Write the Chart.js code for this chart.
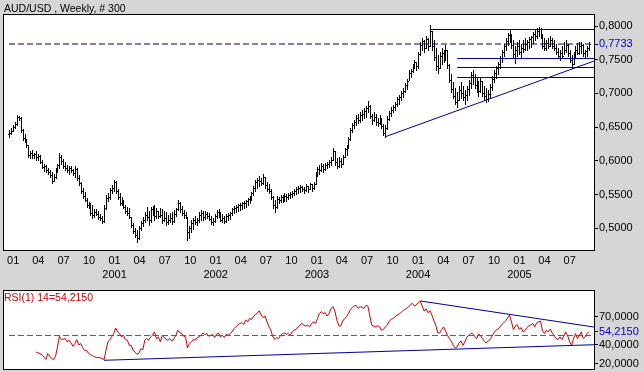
<!DOCTYPE html>
<html>
<head>
<meta charset="utf-8">
<script src="https://cdn.jsdelivr.net/npm/chart.js@4.4.0/dist/chart.umd.min.js"></script>
<style>
  html, body { margin: 0; padding: 0; background: #d6d6d6; }
  #wrap { position: relative; width: 644px; height: 372px; overflow: hidden; }
  canvas { position: absolute; left: 0; }
  #priceChart { top: 0; }
  #rsiChart { top: 284px; }
</style>
</head>
<body>
<div id="wrap">
  <canvas id="priceChart" width="644" height="284"></canvas>
  <canvas id="rsiChart" width="644" height="88"></canvas>
</div>
<script>
// AUD/USD weekly, 300 bars, first bar week of 17 Dec 1999
const title = 'AUD/USD , Weekly, # 300';
const firstWeek = '1999-12-17';
const quarters = ['2000-01', '2000-04', '2000-07', '2000-10', '2001-01', '2001-04', '2001-07', '2001-10',
    '2002-01', '2002-04', '2002-07', '2002-10', '2003-01', '2003-04', '2003-07', '2003-10',
    '2004-01', '2004-04', '2004-07', '2004-10', '2005-01', '2005-04', '2005-07'];

const firstOpen = 0.6400;
const highs = [
    .6460, .6480, .6530, .6570, .6680, .6670, .6650, .6470, .6400, .6320,
    .6240, .6150, .6160, .6120, .6140, .6100, .6080, .6010, .5960, .5940,
    .5890, .5860, .5830, .5800, .5890, .5960, .6120, .6090, .6030, .5980,
    .5940, .5930, .5920, .5880, .5930, .5890, .5790, .5680, .5600, .5540,
    .5450, .5390, .5370, .5340, .5280, .5290, .5250, .5210, .5180, .5350,
    .5490, .5520, .5600, .5640, .5720, .5700, .5580, .5520, .5460, .5420,
    .5340, .5310, .5300, .5170, .5080, .5000, .4970, .5030, .5110, .5170,
    .5240, .5310, .5250, .5310, .5330, .5340, .5300, .5260, .5300, .5290,
    .5260, .5240, .5190, .5220, .5240, .5270, .5300, .5420, .5390, .5330,
    .5270, .5240, .5170, .5030, .5120, .5150, .5180, .5150, .5240, .5270,
    .5260, .5250, .5240, .5220, .5180, .5150, .5210, .5270, .5280, .5240,
    .5210, .5180, .5210, .5230, .5240, .5300, .5330, .5350, .5360, .5370,
    .5390, .5400, .5420, .5450, .5480, .5540, .5630, .5720, .5750, .5770,
    .5750, .5800, .5760, .5690, .5660, .5580, .5480, .5420, .5480, .5470,
    .5500, .5490, .5520, .5510, .5530, .5540, .5560, .5590, .5610, .5620,
    .5640, .5630, .5610, .5650, .5630, .5670, .5650, .5680, .5830, .5910,
    .5940, .5970, .5950, .5970, .5980, .6010, .6060, .6190, .6150, .6040,
    .6060, .6040, .6090, .6190, .6240, .6350, .6490, .6560, .6610, .6680,
    .6690, .6720, .6750, .6780, .6820, .6890, .6830, .6690, .6720, .6690,
    .6640, .6680, .6640, .6540, .6530, .6660, .6740, .6800, .6830, .6880,
    .6950, .6980, .7040, .7080, .7150, .7210, .7350, .7360, .7440, .7500,
    .7470, .7610, .7760, .7820, .7790, .7850, .7820, .8010, .7930, .7790,
    .7670, .7570, .7610, .7670, .7640, .7720, .7650, .7440, .7290, .7170,
    .7080, .7020, .7110, .7170, .7110, .7050, .7110, .7200, .7320, .7350,
    .7290, .7230, .7180, .7230, .7190, .7110, .7080, .7050, .7140, .7260,
    .7350, .7410, .7470, .7560, .7640, .7730, .7820, .7900, .7940, .7880,
    .7790, .7700, .7760, .7790, .7730, .7790, .7820, .7790, .7840, .7850,
    .7910, .7940, .7970, .7985, .7970, .7880, .7820, .7790, .7820, .7850,
    .7820, .7790, .7730, .7670, .7640, .7700, .7760, .7790, .7730, .7644,
    .7570, .7610, .7700, .7750, .7760, .7760, .7730, .7640, .7700, .7763
];
const lows = [
    .6360, .6400, .6440, .6480, .6530, .6600, .6430, .6310, .6280, .6210,
    .6060, .6040, .6040, .6040, .6020, .6010, .5970, .5890, .5850, .5830,
    .5810, .5760, .5670, .5700, .5750, .5830, .5900, .5960, .5890, .5860,
    .5840, .5810, .5830, .5790, .5760, .5710, .5640, .5530, .5450, .5400,
    .5310, .5300, .5200, .5150, .5160, .5190, .5140, .5120, .5080, .5100,
    .5290, .5400, .5440, .5520, .5560, .5520, .5430, .5350, .5350, .5300,
    .5220, .5200, .5150, .5020, .4930, .4870, .4800, .4840, .4970, .5040,
    .5090, .5130, .5050, .5090, .5200, .5130, .5150, .5150, .5170, .5080,
    .5110, .5050, .5060, .5090, .5060, .5100, .5180, .5270, .5240, .5200,
    .5150, .5150, .4820, .4850, .4940, .4990, .5060, .5050, .5090, .5120,
    .5120, .5140, .5150, .5120, .5060, .5050, .5090, .5150, .5170, .5110,
    .5090, .5080, .5090, .5120, .5140, .5200, .5230, .5240, .5260, .5270,
    .5290, .5300, .5310, .5340, .5370, .5420, .5490, .5560, .5600, .5620,
    .5640, .5650, .5600, .5550, .5520, .5440, .5300, .5240, .5300, .5370,
    .5390, .5390, .5410, .5400, .5430, .5450, .5460, .5490, .5510, .5520,
    .5540, .5560, .5520, .5560, .5540, .5580, .5550, .5590, .5660, .5770,
    .5800, .5850, .5830, .5860, .5890, .5910, .5940, .6010, .5940, .5890,
    .5910, .5910, .5950, .6050, .6090, .6190, .6310, .6430, .6490, .6530,
    .6560, .6580, .6600, .6630, .6650, .6730, .6640, .6550, .6590, .6530,
    .6510, .6540, .6490, .6380, .6355, .6470, .6600, .6670, .6720, .6750,
    .6820, .6850, .6900, .6950, .7020, .7060, .7200, .7240, .7320, .7380,
    .7350, .7380, .7570, .7650, .7610, .7670, .7640, .7700, .7640, .7500,
    .7350, .7300, .7370, .7440, .7460, .7500, .7380, .7170, .7020, .6930,
    .6840, .6800, .6900, .6930, .6900, .6840, .6900, .6970, .7080, .7140,
    .7080, .7020, .6960, .7020, .6960, .6900, .6870, .6887, .6930, .7050,
    .7170, .7230, .7290, .7380, .7470, .7550, .7640, .7720, .7760, .7670,
    .7525, .7450, .7560, .7585, .7540, .7610, .7640, .7640, .7670, .7690,
    .7750, .7790, .7820, .7850, .7820, .7670, .7640, .7640, .7670, .7700,
    .7670, .7640, .7585, .7525, .7496, .7540, .7585, .7614, .7555, .7466,
    .7377, .7436, .7525, .7585, .7590, .7600, .7560, .7525, .7555, .7644
];
const closes = [
    .6420, .6450, .6500, .6540, .6650, .6640, .6460, .6340, .6310, .6230,
    .6090, .6120, .6080, .6100, .6050, .6070, .5990, .5910, .5930, .5860,
    .5840, .5790, .5700, .5760, .5860, .5940, .6050, .6000, .5920, .5900,
    .5870, .5900, .5860, .5820, .5880, .5740, .5670, .5560, .5480, .5420,
    .5350, .5330, .5230, .5190, .5240, .5210, .5170, .5150, .5110, .5300,
    .5450, .5470, .5570, .5600, .5690, .5560, .5460, .5380, .5420, .5320,
    .5250, .5230, .5170, .5050, .4960, .4900, .4850, .5000, .5080, .5130,
    .5200, .5160, .5120, .5280, .5250, .5180, .5250, .5180, .5200, .5120,
    .5150, .5100, .5130, .5150, .5110, .5210, .5280, .5380, .5290, .5230,
    .5190, .5170, .4950, .5000, .5080, .5120, .5100, .5120, .5200, .5230,
    .5170, .5210, .5180, .5140, .5090, .5110, .5180, .5240, .5220, .5130,
    .5150, .5110, .5180, .5200, .5220, .5280, .5300, .5310, .5340, .5350,
    .5370, .5380, .5400, .5430, .5460, .5520, .5600, .5690, .5720, .5700,
    .5670, .5760, .5640, .5580, .5560, .5470, .5340, .5310, .5430, .5420,
    .5460, .5450, .5480, .5460, .5490, .5510, .5530, .5560, .5580, .5600,
    .5610, .5590, .5570, .5620, .5580, .5650, .5600, .5660, .5800, .5880,
    .5860, .5930, .5880, .5940, .5960, .5990, .6020, .6150, .5980, .5930,
    .6000, .5960, .6060, .6170, .6210, .6320, .6460, .6530, .6570, .6630,
    .6610, .6680, .6700, .6740, .6780, .6820, .6670, .6600, .6650, .6570,
    .6560, .6620, .6520, .6420, .6480, .6620, .6710, .6760, .6800, .6850,
    .6920, .6950, .7010, .7040, .7120, .7180, .7300, .7330, .7400, .7460,
    .7400, .7580, .7720, .7780, .7680, .7810, .7700, .7920, .7700, .7540,
    .7400, .7380, .7550, .7600, .7560, .7650, .7420, .7200, .7060, .6960,
    .6880, .6900, .7050, .7000, .6950, .6980, .7070, .7150, .7280, .7250,
    .7130, .7180, .7030, .7180, .7000, .6960, .6920, .6990, .7100, .7220,
    .7310, .7380, .7440, .7520, .7610, .7700, .7780, .7860, .7850, .7720,
    .7580, .7640, .7700, .7620, .7680, .7660, .7740, .7760, .7800, .7830,
    .7880, .7850, .7930, .7950, .7840, .7700, .7680, .7750, .7710, .7790,
    .7700, .7670, .7610, .7560, .7600, .7560, .7650, .7720, .7600, .7500,
    .7440, .7570, .7640, .7600, .7700, .7720, .7600, .7630, .7680, .7733
];

// RSI(14) on weekly closes, first value at bar 14
const rsiStart = 14;
const rsiValues = [
    32.4, 31.5, 30.5, 29.5, 27, 24.5, 30.6, 28, 25.5, 24.2,
    28, 37.8, 49.3, 45.7, 46.2, 46.7, 43.2, 45, 42, 38.5,
    41.4, 45.5, 40, 41.4, 37, 34, 34.2, 31, 29.5, 28.5,
    27.4, 26.8, 26.5, 26.3, 25.5, 24.2, 34.2, 43.2, 45.7, 49,
    52.1, 58, 53.9, 52.1, 48.5, 50.3, 45.7, 45, 39.6, 39.6,
    34.5, 32.4, 29.9, 31.3, 36, 34.9, 45, 46.7, 45, 48.5,
    50.3, 53.9, 46.5, 48.5, 43.2, 50.3, 48.5, 45.7, 45, 46.7,
    44.2, 46.7, 50.3, 55.7, 53, 52.1, 49.3, 48.5, 36.7, 41.4,
    43.2, 45.7, 45, 47.8, 48.5, 50.3, 52.8, 51, 52.1, 49.3,
    50.3, 51, 47.8, 51.4, 52.8, 48.5, 50.3, 47.8, 51.4, 50.3,
    52.1, 53.9, 57.5, 59.3, 61.1, 62.9, 63.6, 62, 66.5, 64.7,
    68.2, 67.2, 70, 72.5, 73.6, 76.5, 71.8, 69.3, 70.8, 64.7,
    59.3, 55.7, 48.5, 45.7, 47.8, 46.7, 50.3, 52.1, 52.8, 51.4,
    52.1, 50.3, 53.9, 55.7, 56.4, 59.3, 61.1, 62.9, 61.1, 60,
    61.1, 59.3, 62.9, 64.7, 62.9, 68, 73.6, 75.4, 73.6, 74.3,
    70.8, 73.6, 79, 80.8, 76.1, 66.5, 60.4, 60, 65.4, 68.2,
    70, 73.6, 77.6, 80.1, 81.5, 82.2, 79, 80.8, 80.1, 79,
    82.2, 81.5, 70.8, 61.1, 60, 59.3, 60.4, 59.3, 55.7, 56.4,
    59.3, 61.1, 65.4, 67.2, 68.2, 70, 71.8, 72.9, 74.3, 76.5,
    77.9, 79, 80.8, 83, 84.4, 81.5, 82.6, 85.1, 86.5, 81.5,
    76.1, 78.6, 74.3, 76.5, 71.8, 65.7, 61.1, 52.8, 52.8, 56.4,
    59.3, 55, 50.3, 46.7, 43.9, 39.6, 36.7, 37.8, 42.1, 44.2,
    39.6, 43.2, 48.5, 50, 52.1, 52.1, 49.3, 46.7, 51.4, 50.3,
    46.7, 43.9, 42.1, 44.2, 45.7, 49.3, 52.8, 55.7, 56.8, 59,
    61.8, 63.6, 65.7, 68.6, 71.8, 64.7, 56.4, 60, 61.8, 56.4,
    58.6, 53.9, 55.7, 58.6, 60.4, 61.4, 62.9, 59.3, 63.6, 64.7,
    65.4, 55, 52.1, 55.7, 53.9, 57.1, 52.8, 50, 46.7, 45.7,
    48.5, 45.7, 49.3, 53.9, 49.6, 43.2, 39.6, 46.7, 52.1, 46.7,
    50.3, 53.9, 46.7, 48.5, 52.1, 54.215
];

const lastClose = closes[closes.length - 1];
const lastRsi = rsiValues[rsiValues.length - 1];
const priceTicks = [0.50, 0.55, 0.60, 0.65, 0.70, 0.75, 0.80];
const rsiTicks = [20, 40, 70];
const rsiMidLevel = 50;

// drawn studies: horizontal levels [from week, price], trend lines [week, value] pairs
const levels = [[217, 0.7948], [231, 0.7518], [231, 0.7385], [231, 0.7236]];
const priceTrend = [[194.2, 0.6360], [301.5, 0.7480]];
const rsiLowTrend = [[49, 23.6], [301.5, 40.2]];
const rsiHighTrend = [[212, 86.9], [301.5, 59.1]];

const X_MIN = -3.09, X_MAX = 301.55;
const BLUE = '#00009c';
const LABEL_BLUE = '#0000c8';

Chart.defaults.font.family = '"Liberation Sans", Arial, sans-serif';
Chart.defaults.font.size = 11;
Chart.defaults.color = '#000';

const fmt = v => v.toFixed(4).replace('.', ',');

const weekMs = 7 * 24 * 3600 * 1000;
const startMs = Date.parse(firstWeek + 'T00:00:00Z');
const quarterTicks = quarters.map((q, i) => {
    const value = (Date.parse(q + '-01T00:00:00Z') - startMs) / weekMs;
    const month = q.slice(5, 7);
    const label = (month === '01' && i > 0) ? [month, q.slice(0, 4)] : month;
    return { value, label };
});

// white plot area with a black frame
const panelPlugin = {
    id: 'panel',
    beforeDraw(chart) {
        const { ctx, chartArea: a } = chart;
        ctx.save();
        ctx.fillStyle = '#fff';
        ctx.fillRect(a.left, a.top, a.right - a.left, a.bottom - a.top);
        ctx.restore();
    },
    afterDraw(chart) {
        const { ctx, chartArea: a } = chart;
        ctx.save();
        ctx.strokeStyle = '#000';
        ctx.lineWidth = 1;
        ctx.strokeRect(a.left + 0.5, a.top + 0.5, a.right - a.left, a.bottom - a.top);
        ctx.restore();
    }
};

// OHLC bars: high-low stem, open tick left, close tick right
const ohlcPlugin = {
    id: 'ohlc',
    beforeDatasetsDraw(chart) {
        const { ctx, scales: { x, y } } = chart;
        ctx.save();
        ctx.fillStyle = '#000';
        closes.forEach((c, i) => {
            const o = i === 0 ? firstOpen : closes[i - 1];
            const px = Math.round(x.getPixelForValue(i));
            const yh = Math.round(y.getPixelForValue(highs[i]));
            const yl = Math.round(y.getPixelForValue(lows[i]));
            ctx.fillRect(px, yh, 1, yl - yh + 1);
            ctx.fillRect(px - 1, Math.round(y.getPixelForValue(o)), 1, 1);
            ctx.fillRect(px + 1, Math.round(y.getPixelForValue(c)), 1, 1);
        });
        ctx.restore();
    }
};

const textPlugin = (text, color, pos) => ({
    id: 'caption',
    afterDraw(chart) {
        const { ctx, chartArea } = chart;
        const p = pos(chartArea);
        ctx.save();
        ctx.font = '10.5px "Liberation Sans", Arial, sans-serif';
        ctx.fillStyle = color;
        ctx.textBaseline = 'middle';
        ctx.fillText(text, p[0], p[1]);
        ctx.restore();
    }
});

function seg(points, color, dash) {
    return {
        data: points.map(p => ({ x: p[0], y: p[1] })),
        borderColor: color,
        borderWidth: 1,
        borderDash: dash || [],
        pointRadius: 0,
        tension: 0
    };
}

function rightAxis(min, max, ticks, marked) {
    const all = ticks.concat([marked]).sort((a, b) => a - b);
    const isMarked = c => c.tick && Math.abs(c.tick.value - marked) < 1e-9;
    return {
        position: 'right',
        min, max,
        afterBuildTicks: s => { s.ticks = all.map(v => ({ value: v })); },
        afterFit: s => { s.width = 50; s.paddingTop = 0; s.paddingBottom = 0; },
        border: { display: false },
        grid: {
            drawOnChartArea: false,
            drawTicks: true,
            tickLength: 4,
            tickColor: c => isMarked(c) ? LABEL_BLUE : '#000'
        },
        ticks: {
            autoSkip: false,
            padding: 1,
            color: c => isMarked(c) ? LABEL_BLUE : '#000',
            callback: v => fmt(v)
        }
    };
}

// price panel
new Chart(document.getElementById('priceChart'), {
    type: 'line',
    data: {
        datasets: [
            seg([[0, lastClose], [closes.length - 1, lastClose]], '#000080', [6, 3]),
            ...levels.map(l => seg([[l[0], l[1]], [X_MAX, l[1]]], BLUE)),
            seg(priceTrend, BLUE)
        ]
    },
    options: {
        responsive: false,
        animation: false,
        events: [],
        layout: { padding: { left: 3, top: 14, right: 0, bottom: 0 } },
        plugins: { legend: { display: false }, tooltip: { enabled: false } },
        scales: {
            x: {
                type: 'linear',
                min: X_MIN, max: X_MAX,
                afterBuildTicks: s => { s.ticks = quarterTicks.map(q => ({ value: q.value })); },
                afterFit: s => { s.height = 34; s.paddingLeft = 0; s.paddingRight = 0; },
                border: { display: false },
                grid: { display: false, drawTicks: false },
                ticks: {
                    autoSkip: false,
                    maxRotation: 0,
                    padding: 4,
                    font: { size: 11, lineHeight: 14 / 11 },
                    callback: (v, i) => quarterTicks[i].label
                }
            },
            y: rightAxis(0.4678, 0.8178, priceTicks, lastClose)
        }
    },
    plugins: [panelPlugin, ohlcPlugin, textPlugin(title, '#000', () => [4, 9])]
});

// RSI panel
new Chart(document.getElementById('rsiChart'), {
    type: 'line',
    data: {
        datasets: [
            seg([[0, rsiMidLevel], [X_MAX, rsiMidLevel]], '#008080', [6, 3]),
            seg(rsiLowTrend, BLUE),
            seg(rsiHighTrend, BLUE),
            {
                data: rsiValues.map((v, k) => ({ x: rsiStart + k, y: v })),
                borderColor: '#d00000',
                borderWidth: 1,
                pointRadius: 0,
                tension: 0
            }
        ]
    },
    options: {
        responsive: false,
        animation: false,
        events: [],
        layout: { padding: { left: 3, top: 6, right: 0, bottom: 3 } },
        plugins: { legend: { display: false }, tooltip: { enabled: false } },
        scales: {
            x: { type: 'linear', min: X_MIN, max: X_MAX, display: false },
            y: rightAxis(14.3, 98.6, rsiTicks, lastRsi)
        }
    },
    plugins: [panelPlugin, textPlugin('RSI(1) 14=' + fmt(lastRsi), '#d00000', a => [a.left + 1, a.top + 8])]
});
</script>
</body>
</html>
